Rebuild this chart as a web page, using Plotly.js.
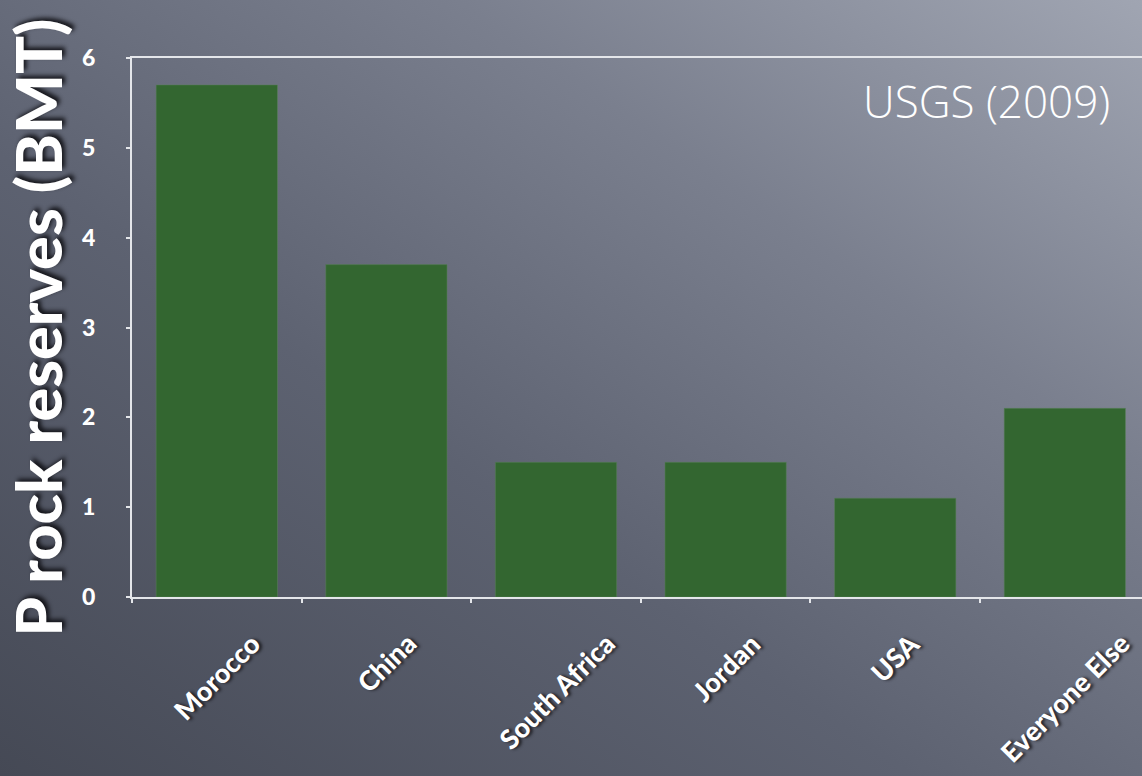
<!DOCTYPE html>
<html><head><meta charset="utf-8">
<script src="https://cdn.plot.ly/plotly-3.0.1.min.js"></script>
<style>
html,body{margin:0;padding:0;width:1142px;height:776px;overflow:hidden;}
body{background:linear-gradient(to top right,#454955 0%,#5d6271 40%,#7a7f8e 70%,#a0a5b2 100%);}
#chart{width:1142px;height:776px;}
</style></head>
<body><div id="chart"></div>
<script>
const categories = ["Morocco","China","South Africa","Jordan","USA","Everyone Else"];
const reserves = [5.7, 3.7, 1.5, 1.5, 1.1, 2.1];
const yTicks = [0,1,2,3,4,5,6];
const yTickText = ["0","1","2","3","4","5","6"];
const sourceNote = "USGS (2009)";
const yTitle = "P rock reserves (BMT)";

const shadow = "2px 2px 3px rgba(20,20,25,0.85)";
const labelAnnotations = categories.map(c => ({
  x: c, y: 0, xref: "x", yref: "y",
  text: c, textangle: -45, showarrow: false,
  xanchor: "center", yanchor: "top", yshift: -27,
  font: {family: "Lato, 'Open Sans', sans-serif", size: 27, color: "#ffffff", weight: 900, shadow: shadow}
}));

const data = [{
  type: "bar", x: categories, y: reserves,
  marker: {color: "#336630", line: {color: "rgba(90,130,90,0.5)", width: 1}},
  hoverinfo: "skip"
}];

const layout = {
  width: 1142, height: 776,
  paper_bgcolor: "rgba(0,0,0,0)", plot_bgcolor: "rgba(0,0,0,0)",
  margin: {l: 132, r: 0, t: 58, b: 179},
  bargap: 0.285,
  showlegend: false,
  xaxis: {
    type: "category", range: [-0.5, 5.455],
    showticklabels: false, showgrid: false, zeroline: false,
    showline: true, linecolor: "#e4e6ea", linewidth: 2, mirror: true,
    ticks: "outside", tickson: "boundaries", ticklen: 4, tickcolor: "#e4e6ea", tickwidth: 2
  },
  yaxis: {
    range: [0, 6], tickvals: yTicks, ticktext: yTickText,
    showgrid: false, zeroline: false,
    showline: true, linecolor: "#e4e6ea", linewidth: 2,
    ticks: "outside", ticklen: 4, tickcolor: "#e4e6ea", tickwidth: 2,
    ticklabelstandoff: 26,
    tickfont: {family: "Lato, 'Open Sans', sans-serif", size: 23, color: "#ffffff", weight: 900},
    title: {text: yTitle, standoff: 20,
      font: {family: "Lato, 'Open Sans', sans-serif", size: 63, color: "#ffffff", weight: 900, shadow: "3px 3px 4px rgba(15,15,20,0.9)"}}
  },
  annotations: labelAnnotations.concat([{
    xref: "paper", yref: "paper", x: 0.97, y: 0.92, xanchor: "right", yanchor: "middle",
    text: sourceNote, showarrow: false,
    font: {family: "'Open Sans', Lato, sans-serif", size: 44, color: "#ffffff", weight: 300}
  }])
};

Plotly.newPlot("chart", data, layout, {displayModeBar: false, staticPlot: true});
</script></body></html>
